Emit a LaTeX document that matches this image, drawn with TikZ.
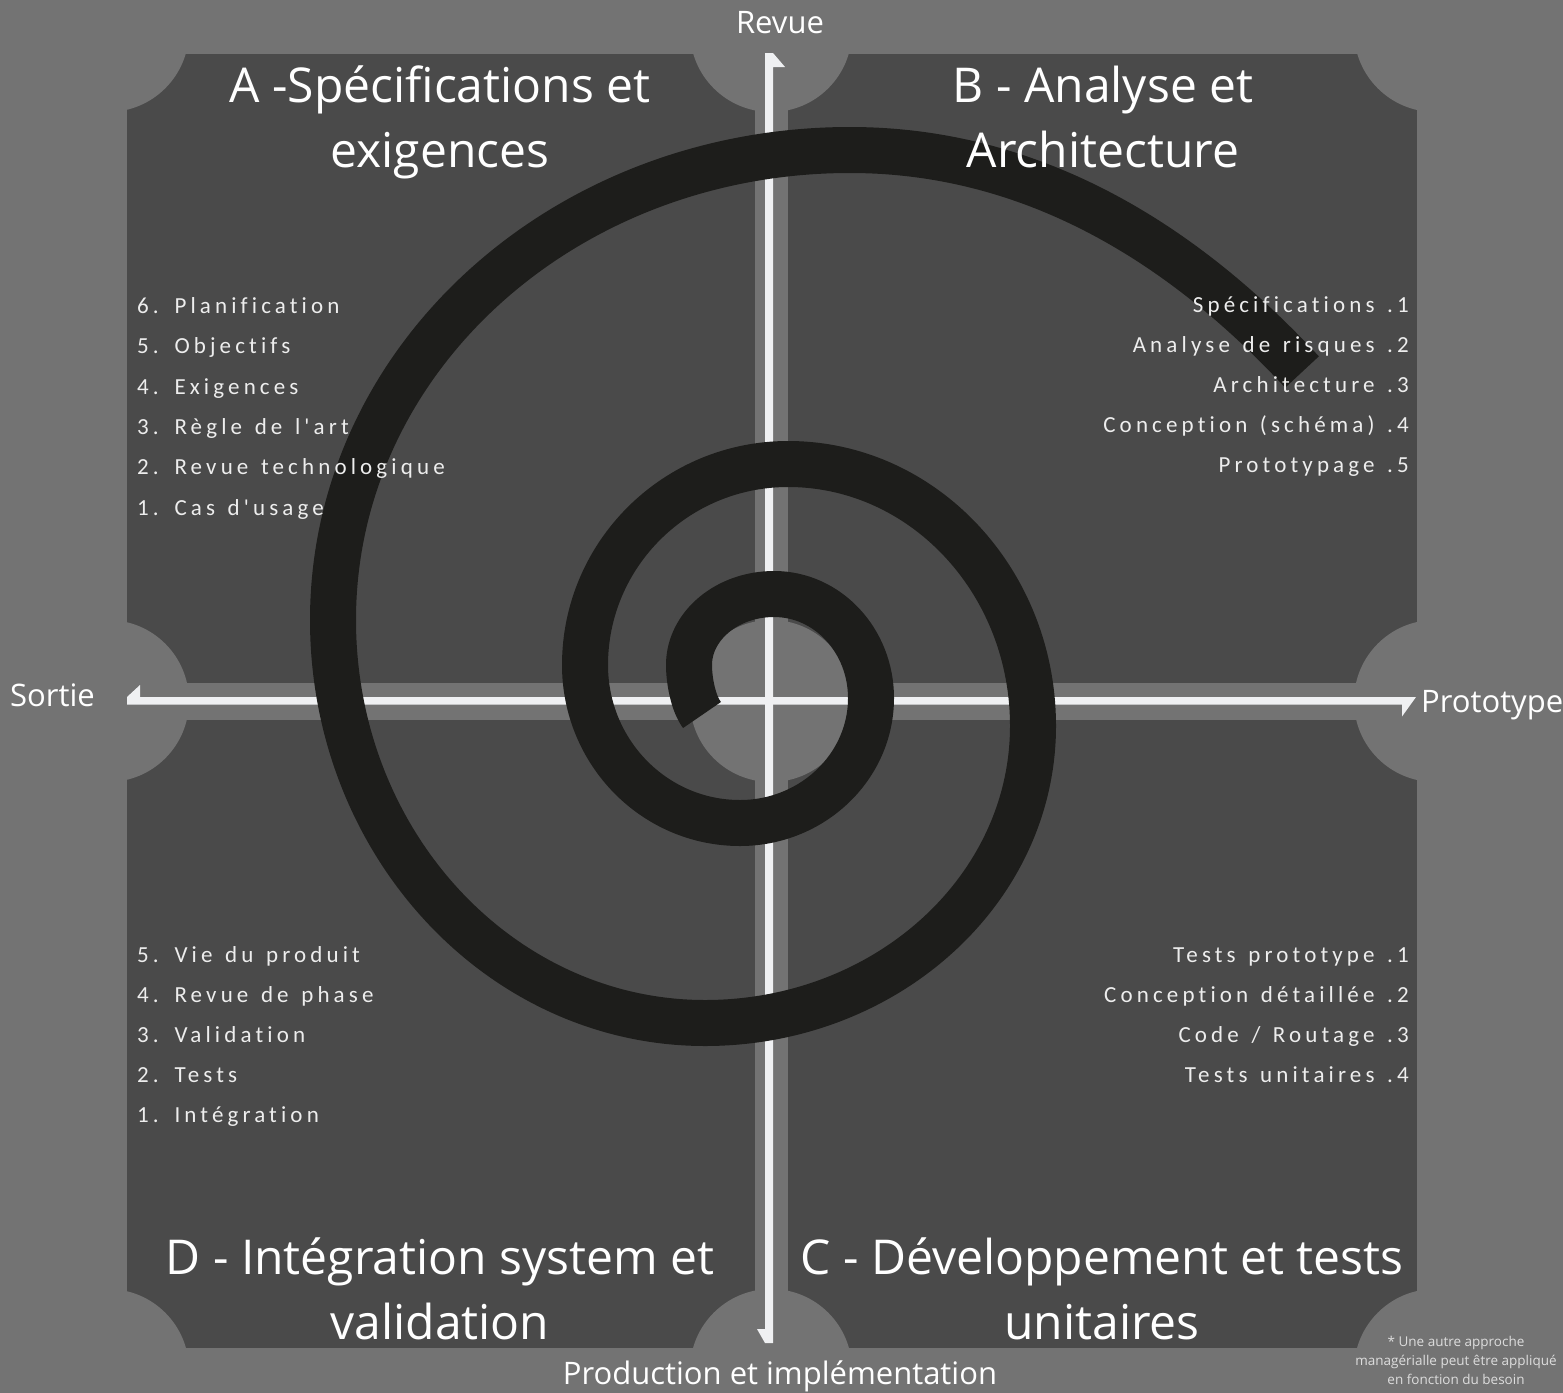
\documentclass[tikz,border=0pt]{standalone}
\usepackage{fontspec}
\setmainfont{Open Sans}
\newfontfamily\listfont[LetterSpace=18,Ligatures={NoCommon},WordSpace=1.35]{Carlito}
\definecolor{bgc}{HTML}{737373}
\definecolor{panelc}{HTML}{4A4A4A}
\definecolor{spiralc}{HTML}{1D1D1B}
\definecolor{linec}{HTML}{EFF0F2}
\definecolor{notec}{HTML}{DDDDDD}
\begin{document}
\begin{tikzpicture}[x=1pt,y=-1pt,
  titlestyle/.style={text=white,font=\fontsize{48}{65}\selectfont,inner sep=0,anchor=base},
  labstyle/.style={text=white,font=\fontsize{31}{36}\selectfont,inner sep=0},
  itemL/.style={text=white!93!black,font=\listfont\fontsize{23}{26}\selectfont,inner sep=0,anchor=base west},
  itemR/.style={text=white!93!black,font=\listfont\fontsize{23}{26}\selectfont,inner sep=0,anchor=base east},
  notestyle/.style={text=notec,font=\fontsize{13.5}{19}\selectfont,inner sep=0,anchor=base},
  spiralline/.style={draw=spiralc,line width=46,line cap=butt,line join=round}]
\useasboundingbox (0,0) rectangle (1563,1392);
\fill[bgc] (-20,-20) rectangle (1583,1412);
% panels
\fill[panelc] (127,54) rectangle (1417,1348);
\fill[bgc] (755,54) rectangle (788,1348);
\fill[bgc] (127,683) rectangle (1417,720);
\foreach \cx in {108,771,1435}{\foreach \cy in {31,701,1370}{\fill[bgc] (\cx,\cy) circle (81);}}
% axes (half arrows)
\fill[linec] (765,53) -- (773,53) -- (785,67) -- (773,67) -- (773,1343) -- (765,1343) -- (757,1329) -- (765,1329) -- cycle;
\fill[linec] (127,704.5) -- (127,697) -- (140,685) -- (140,697) -- (1416,697) -- (1402,716.5) -- (1402,704.5) -- cycle;
% spiral
\draw[spiralline] (702,715) .. controls (693,703) and (689,680) .. (689,665)
 .. controls (689,626) and (727,594) .. (774,594)
 .. controls (828,594) and (871,641) .. (871,698)
 .. controls (871,767) and (812,823) .. (740,823)
 .. controls (654,823) and (585,752) .. (585,665)
 .. controls (585,554) and (676,464) .. (788,464)
 .. controls (923,464) and (1033,581) .. (1033,726)
 .. controls (1033,890) and (886,1023) .. (705,1023)
 .. controls (500,1023) and (333,843) .. (333,620)
 .. controls (333,359) and (564,150) .. (850,150)
 .. controls (1050,150) and (1200,262) .. (1302,372);
% axis labels
\node[labstyle,anchor=base] (revue) at (780,33) {Revue};
\node[labstyle,anchor=base west] (sortie) at (10,706) {Sortie};
\node[labstyle,anchor=base west] (proto) at (1421,712) {Prototype};
\node[labstyle,anchor=base] (prod) at (780,1384) {Production et implémentation};
% titles
\node[titlestyle] (ta1) at (440,102) {A -Spécifications et};
\node[titlestyle] (ta2) at (440,167) {exigences};
\node[titlestyle] (tb1) at (1103,102) {B - Analyse et};
\node[titlestyle] (tb2) at (1103,167) {Architecture};
\node[titlestyle] (td1) at (440,1274) {D - Intégration system et};
\node[titlestyle] (td2) at (440,1339) {validation};
\node[titlestyle] (tc1) at (1102,1274) {C - Développement et tests};
\node[titlestyle] (tc2) at (1102,1339) {unitaires};
% list A
\node[itemL] (a6) at (137,313) {6. Planification};
\node[itemL] (a5) at (137,353.5) {5. Objectifs};
\node[itemL] (a4) at (137,394) {4. Exigences};
\node[itemL] (a3) at (137,434) {3. Règle de l'art};
\node[itemL] (a2) at (137,474.5) {2. Revue technologique};
\node[itemL] (a1) at (137,515) {1. Cas d'usage};
% list B
\node[itemR] (b1) at (1409,312) {Spécifications .1};
\node[itemR] (b2) at (1409,352) {Analyse de risques .2};
\node[itemR] (b3) at (1409,392) {Architecture .3};
\node[itemR] (b4) at (1409,432) {Conception (schéma) .4};
\node[itemR] (b5) at (1409,472) {Prototypage .5};
% list D
\node[itemL] (d5) at (137,962) {5. Vie du produit};
\node[itemL] (d4) at (137,1002) {4. Revue de phase};
\node[itemL] (d3) at (137,1042) {3. Validation};
\node[itemL] (d2) at (137,1082) {2. Tests};
\node[itemL] (d1) at (137,1122) {1. Intégration};
% list C
\node[itemR] (c1) at (1409,962) {Tests prototype .1};
\node[itemR] (c2) at (1409,1002) {Conception détaillée .2};
\node[itemR] (c3) at (1409,1042) {Code / Routage .3};
\node[itemR] (c4) at (1409,1082) {Tests unitaires .4};
% footnote
\node[notestyle] (n1) at (1456,1346) {* Une autre approche};
\node[notestyle] (n2) at (1456,1365) {managérialle peut être appliqué};
\node[notestyle] (n3) at (1456,1384) {en fonction du besoin};
\end{tikzpicture}
\end{document}
